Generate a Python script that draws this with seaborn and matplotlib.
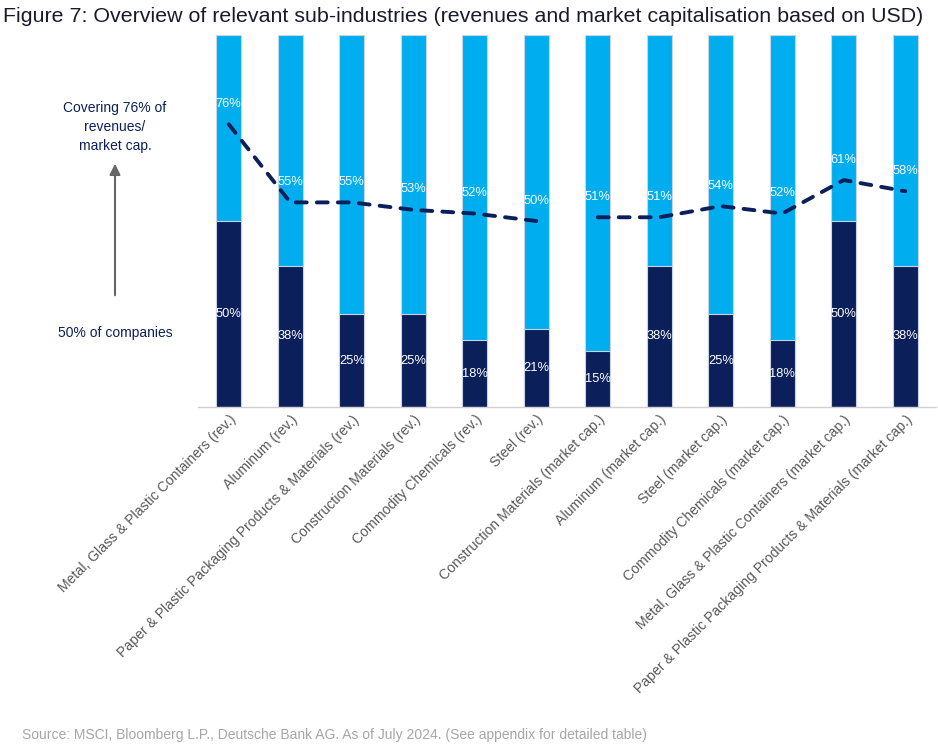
import numpy as np
import pandas as pd
import matplotlib
matplotlib.use("Agg")
import matplotlib.pyplot as plt
import seaborn as sns

categories = [
    "Metal, Glass & Plastic Containers (rev.)",
    "Aluminum (rev.)",
    "Paper & Plastic Packaging Products & Materials (rev.)",
    "Construction Materials (rev.)",
    "Commodity Chemicals (rev.)",
    "Steel (rev.)",
    "Construction Materials (market cap.)",
    "Aluminum (market cap.)",
    "Steel (market cap.)",
    "Commodity Chemicals (market cap.)",
    "Metal, Glass & Plastic Containers (market cap.)",
    "Paper & Plastic Packaging Products & Materials (market cap.)",
]
coverage = [76, 55, 55, 53, 52, 50, 51, 51, 54, 52, 61, 58]
companies = [50, 38, 25, 25, 18, 21, 15, 38, 25, 18, 50, 38]
segment = [1, 1, 1, 1, 1, 1, 2, 2, 2, 2, 2, 2]
total = [100] * len(categories)

LIGHT = "#00aeef"
NAVY = "#0b1f5a"

sns.set_theme(style="white")
plt.rcParams["font.family"] = ["Liberation Sans", "DejaVu Sans"]

df = pd.DataFrame({"cat": categories, "cov": coverage, "comp": companies,
                   "seg": segment, "tot": total})

fig = plt.figure(figsize=(9.38, 7.54), dpi=100)
ax = fig.add_axes([198 / 938, 1 - 407 / 754, (936 - 198) / 938, (407 - 35) / 754])

sns.barplot(data=df, x="cat", y="tot", color=LIGHT, width=0.4, ax=ax,
            edgecolor="#c8d3e6", linewidth=0.8, saturation=1)
sns.barplot(data=df, x="cat", y="comp", color=NAVY, width=0.4, ax=ax,
            edgecolor="#c8d3e6", linewidth=0.8, saturation=1)

xpos = np.arange(len(categories))
for s in sorted(set(segment)):
    m = df["seg"] == s
    ax.plot(xpos[m.values], df.loc[m, "cov"], color=NAVY, lw=2.8,
            linestyle=(0, (2.8, 2.6)), dash_capstyle="round", zorder=5)

for i, (c, p) in enumerate(zip(coverage, companies)):
    ax.text(i, c + 5.5, f"{c}%", ha="center", va="center", color="white",
            fontsize=9.3, zorder=6)
    ax.text(i, p / 2, f"{p}%", ha="center", va="center", color="white",
            fontsize=9.3, zorder=6)

ax.set_ylim(0, 100)
ax.set_xlim(-0.5, len(categories) - 0.5)
ax.set_xlabel("")
ax.set_ylabel("")
ax.set_yticks([])
for sp in ["top", "right", "left"]:
    ax.spines[sp].set_visible(False)
ax.spines["bottom"].set_color("#d0d0d0")
ax.spines["bottom"].set_linewidth(1.0)
ax.tick_params(axis="x", length=0, pad=4)
ax.set_xticks(xpos)
ax.set_xticklabels(categories, rotation=45, ha="right", rotation_mode="anchor",
                   color="#595959", fontsize=10.1)

fig.text(0.003, 1 - 17 / 754, "Figure 7: Overview of relevant sub-industries (revenues and market capitalisation based on USD)",
         fontsize=15.4, color="#1a1a2e", va="center", ha="left")
fig.text(115 / 938, 1 - 127 / 754, "Covering 76% of\nrevenues/\nmarket cap.",
         ha="center", va="center", color=NAVY, fontsize=10, linespacing=1.45)
fig.text(115 / 938, 1 - 333 / 754, "50% of companies", ha="center", va="center",
         color=NAVY, fontsize=10)
fig.patches.append(matplotlib.patches.FancyArrowPatch(
    (115 / 938, 1 - 298 / 754), (115 / 938, 1 - 161 / 754),
    transform=fig.transFigure, arrowstyle="-|>", mutation_scale=16,
    color="#666666", lw=1.5))
fig.text(22 / 938, 1 - 735 / 754,
         "Source: MSCI, Bloomberg L.P., Deutsche Bank AG. As of July 2024. (See appendix for detailed table)",
         fontsize=10, color="#a6a6a6", va="center", ha="left")

fig.savefig("out.png", dpi=100)
